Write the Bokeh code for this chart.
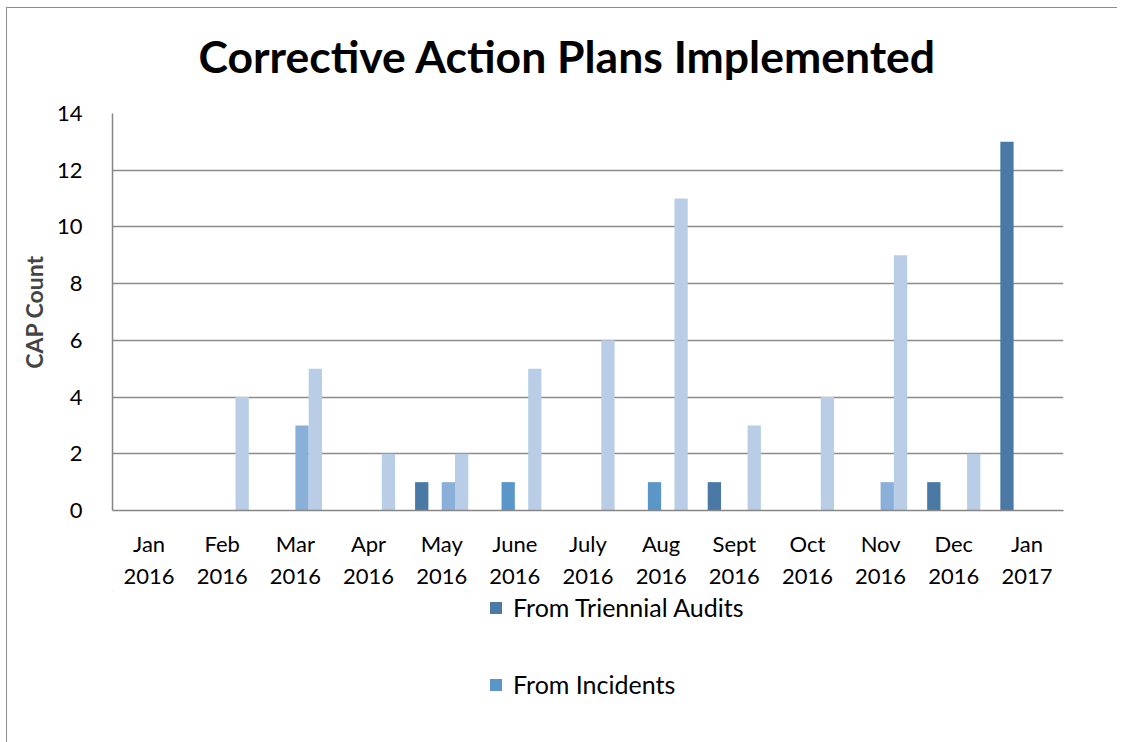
from bokeh.plotting import figure
from bokeh.layouts import column
from bokeh.models import (ColumnDataSource, FactorRange, Range1d, FixedTicker,
                          Legend, LegendItem)
from bokeh.core.properties import value
from bokeh.transform import dodge
from bokeh.embed import file_html
from bokeh.resources import INLINE

title_text = "Corrective Action Plans Implemented"
months = ["Jan\n2016", "Feb\n2016", "Mar\n2016", "Apr\n2016", "May\n2016",
          "June\n2016", "July\n2016", "Aug\n2016", "Sept\n2016", "Oct\n2016",
          "Nov\n2016", "Dec\n2016", "Jan\n2017"]
triennial_audits = [0, 0, 0, 0, 1, 0, 0, 0, 1, 0, 0, 1, 13]
incidents        = [0, 0, 0, 0, 0, 1, 0, 1, 0, 0, 0, 0, 0]
series_three     = [0, 0, 3, 0, 1, 0, 0, 0, 0, 0, 1, 0, 0]
series_four      = [0, 4, 5, 2, 2, 5, 6, 11, 3, 4, 9, 2, 0]
y_ticks = [0, 2, 4, 6, 8, 10, 12, 14]
legend_labels = ["From Triennial Audits", "From Incidents"]

FONT = "Lato"
COLORS = ["#4A79A5", "#5A96C8", "#8AB0DA", "#B9CEE6"]

src = ColumnDataSource(dict(month=months, ta=triennial_audits, inc=incidents,
                            s3=series_three, s4=series_four))

W = 1110
FW = 951  # frame width in pixels

def blank(h):
    f = figure(width=W, height=h, x_range=Range1d(0, FW), y_range=Range1d(h, 0),
               output_backend="svg", toolbar_location=None,
               x_axis_location=None, y_axis_location=None,
               min_border_left=105, min_border_right=54, min_border_top=0,
               min_border_bottom=0)
    f.outline_line_color = None
    f.xgrid.grid_line_color = None
    f.ygrid.grid_line_color = None
    return f

# title panel
H0 = 90
p0 = blank(H0)
p0.text(x=[455], y=[47], text=[title_text], text_font=value(FONT),
        text_font_size="44.5px", text_font_style="bold", text_color="black",
        text_align="center", text_baseline="middle")

# chart
H1 = 15 + 399 + 79
p = figure(width=W, height=H1, x_range=FactorRange(*months),
           y_range=Range1d(0, 14), output_backend="svg", toolbar_location=None,
           min_border_left=105, min_border_right=54, min_border_top=15,
           min_border_bottom=79)
p.outline_line_color = None
p.background_fill_color = "white"
p.border_fill_color = "white"

w = 1 / 5.5
keys = ["ta", "inc", "s3", "s4"]
offs = [-1.5 * w, -0.5 * w, 0.5 * w, 1.5 * w]
for c, col, o in zip(keys, COLORS, offs):
    p.vbar(x=dodge("month", o, range=p.x_range), top=c, width=w, bottom=0,
           source=src, fill_color=col, line_color=None)

p.yaxis.ticker = FixedTicker(ticks=y_ticks)
p.yaxis.axis_label = "CAP Count"
p.yaxis.axis_label_text_font = FONT
p.yaxis.axis_label_text_font_size = "23px"
p.yaxis.axis_label_text_font_style = "bold"
p.yaxis.axis_label_standoff = 6
p.yaxis.major_label_standoff = 24
for ax in (p.xaxis, p.yaxis):
    ax.major_label_text_font = FONT
    ax.major_label_text_font_size = "22px"
    ax.major_label_text_color = "black"
    ax.axis_line_color = "#868686"
    ax.axis_line_width = 1.5
    ax.major_tick_line_color = None
    ax.minor_tick_line_color = None
p.xaxis.major_label_standoff = 13

p.xgrid.grid_line_color = None
p.ygrid.grid_line_color = "#8c8c8c"
p.ygrid.grid_line_width = 1.5

# legend panel (frames of a column are aligned, so x is measured from the frame's left edge)
H2 = 734 - H0 - H1
p2 = blank(H2)
lr = []
for col in COLORS[:2]:
    lr.append(p2.vbar(x=[-1000], top=[-1000], bottom=[-1001], width=1,
                      fill_color=col, line_color=None))
legend = Legend(items=[LegendItem(label=lab, renderers=[r]) for lab, r in zip(legend_labels, lr)],
                location=(376, 43), orientation="vertical",
                label_text_font=FONT, label_text_font_size="25px",
                label_text_color="black", label_text_line_height=1.0,
                glyph_width=15, glyph_height=15, label_height=22,
                spacing=47, padding=0, margin=0, label_standoff=10,
                border_line_color=None, background_fill_alpha=0)
p2.add_layout(legend, "center")

lay = column(p0, p, p2, spacing=0)
lay.styles = {"margin-left": "6px", "margin-top": "7px",
              "border-left": "1px solid #8c8c8c", "border-top": "1px solid #8c8c8c"}

open("out.html", "w").write(file_html(lay, INLINE))
